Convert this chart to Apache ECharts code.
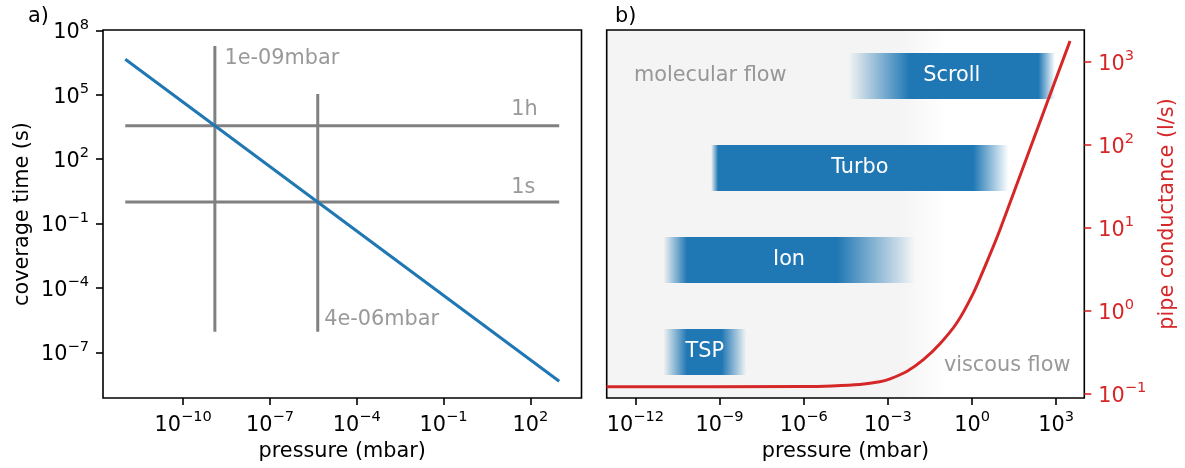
<!DOCTYPE html>
<html>
<head>
<meta charset="utf-8">
<script src="https://cdn.jsdelivr.net/npm/echarts@6/dist/echarts.min.js"></script>
<style>
html,body{margin:0;padding:0;background:#fff;}
#chart{width:1185px;height:468px;}
</style>
</head>
<body>
<div id="chart"></div>
<script>
// ---------- data: panel a (coverage time) ----------
const coverageP = [1e-12, 1e3];            // mbar
const coverageT = [4.5e6, 4.5e-9];         // s
const refTimes = [3600, 1];                // horizontal reference lines (1h, 1s)
const refTimeLabels = ['1h', '1s'];
const refTimeSpan = [1e-12, 1e3];
const refPress = [1.25e-9, 4.5e-6];        // vertical reference lines
const refPressTop = [1.9e7, 1.1e5];
const refPressBottom = [9e-7, 9e-7];
const refPressLabels = ['1e-09mbar', '4e-06mbar'];

// ---------- data: panel b (pumps and conductance) ----------
const pumpNames = ['TSP', 'Ion', 'Turbo', 'Scroll'];
const pumpStart = [1e-11, 1e-11, 5e-10, 4e-5];
const pumpFull = [7e-11, 7e-11, 9e-10, 6e-3];
const pumpFullEnd = [1.2e-9, 1.5e-5, 1.1, 230];
const pumpEnd = [9e-9, 9e-3, 20, 900];

const condP = [9.5e-14, 1e-6, 1e-5, 1e-4, 5.1e-4, 1.2e-3, 4.7e-3, 1.8e-2, 7.2e-2, 0.28, 1.1, 3.3, 9.8, 100, 3100];
const condC = [0.121, 0.122, 0.124, 0.129, 0.139, 0.151, 0.185, 0.255, 0.40, 0.705, 1.62, 3.8, 9.38, 78, 1780];

// ---------- tick labels (decade exponents) ----------
const ticksAX = [-10, -7, -4, -1, 2];
const ticksAY = [-7, -4, -1, 2, 5, 8];
const ticksBX = [-12, -9, -6, -3, 0, 3];
const ticksBY = [-1, 0, 1, 2, 3];

// ---------- annotation anchors (data space) ----------
const annotA = [
  {text: refPressLabels[0], p: 2.7e-9, t: 5.0e6},
  {text: refPressLabels[1], p: 7.6e-6, t: 3.2e-6},
  {text: refTimeLabels[0], p: 22, t: 1.95e4},
  {text: refTimeLabels[1], p: 22, t: 4.7}
];
const annotB = [
  {text: 'molecular flow', p: 8.9e-13, row: 3.5, align: 'left'},
  {text: 'viscous flow', p: 3.2e3, row: 0.35, align: 'right'}
];

const L = Math.log10;
const FONT = 'DejaVu Sans';
const FS = 20.8;
const GRAY = '#808080';
const RED = '#d62728';
const BLUE = '#1f77b4';

function expLabel(v) {
  const e = Math.round(v);
  return '{b|10}{s|' + (e < 0 ? '\u2212' + (-e) : e) + '}';
}
function rich(color) {
  return {
    b: {fontSize: FS, fontFamily: FONT, color: color, lineHeight: 26, verticalAlign: 'bottom'},
    s: {fontSize: 14.6, fontFamily: FONT, color: color, lineHeight: 16, verticalAlign: 'top'}
  };
}
function valueAxis(o) {
  const color = o.color || '#000';
  return Object.assign({
    type: 'value',
    splitLine: {show: false},
    axisLine: {show: false, onZero: false},
    axisTick: {show: true, customValues: o.ticks, length: 7, lineStyle: {color: color, width: 1.6}},
    axisLabel: {show: true, customValues: o.ticks, formatter: expLabel, rich: rich(color), margin: o.margin || 13},
    nameLocation: 'middle',
    nameTextStyle: {fontSize: FS, fontFamily: FONT, color: color}
  }, o.extra);
}

const chart = echarts.init(document.getElementById('chart'), null, {renderer: 'canvas'});

const series = [];
// panel a reference lines
refTimes.forEach(function (t) {
  series.push({type: 'line', xAxisIndex: 0, yAxisIndex: 0, symbol: 'none', silent: true,
    lineStyle: {color: GRAY, width: 3}, z: 2,
    data: [[L(refTimeSpan[0]), L(t)], [L(refTimeSpan[1]), L(t)]]});
});
refPress.forEach(function (p, i) {
  series.push({type: 'line', xAxisIndex: 0, yAxisIndex: 0, symbol: 'none', silent: true,
    lineStyle: {color: GRAY, width: 3}, z: 2,
    data: [[L(p), L(refPressBottom[i])], [L(p), L(refPressTop[i])]]});
});
series.push({type: 'line', xAxisIndex: 0, yAxisIndex: 0, symbol: 'none', silent: true, z: 3,
  lineStyle: {color: BLUE, width: 3},
  data: coverageP.map(function (p, i) { return [L(p), L(coverageT[i])]; })});
series.push({type: 'scatter', xAxisIndex: 0, yAxisIndex: 0, symbolSize: 0, silent: true, z: 4,
  data: annotA.map(function (a) {
    return {value: [L(a.p), L(a.t)], name: a.text};
  }),
  label: {show: true, position: [0, 0], align: 'left', verticalAlign: 'middle',
    formatter: function (d) { return d.name; }, fontSize: FS, fontFamily: FONT, color: GRAY}
});

// panel b pumps
series.push({type: 'custom', xAxisIndex: 1, yAxisIndex: 2, silent: true, z: 2,
  data: pumpNames.map(function (n, i) {
    return [L(pumpStart[i]), L(pumpFull[i]), L(pumpFullEnd[i]), L(pumpEnd[i]), i];
  }),
  encode: {x: [0, 1, 2, 3], y: 4},
  renderItem: function (params, api) {
    const c = api.value(4) + 0.5;
    const a = api.coord([api.value(0), c + 0.25]);
    const b = api.coord([api.value(3), c - 0.25]);
    const f1 = api.coord([api.value(1), c])[0];
    const f2 = api.coord([api.value(2), c])[0];
    const w = b[0] - a[0];
    return {
      type: 'rect',
      shape: {x: a[0], y: a[1], width: w, height: b[1] - a[1]},
      style: {fill: {type: 'linear', x: 0, y: 0, x2: 1, y2: 0, colorStops: [
        {offset: 0, color: 'rgba(31,119,180,0)'},
        {offset: (f1 - a[0]) / w, color: 'rgba(31,119,180,1)'},
        {offset: (f2 - a[0]) / w, color: 'rgba(31,119,180,1)'},
        {offset: 1, color: 'rgba(31,119,180,0)'}]}},
      textContent: {style: {text: pumpNames[params.dataIndex], fill: '#fff', fontSize: FS, fontFamily: FONT}},
      textConfig: {position: 'inside'}
    };
  }
});
series.push({type: 'line', xAxisIndex: 1, yAxisIndex: 1, symbol: 'none', silent: true, z: 5,
  smooth: 0.25,
  lineStyle: {color: RED, width: 3, join: 'round'},
  data: condP.map(function (p, i) { return [L(p), L(condC[i])]; })});
series.push({type: 'scatter', xAxisIndex: 1, yAxisIndex: 2, symbolSize: 0, silent: true, z: 4,
  data: annotB.map(function (a) {
    return {value: [L(a.p), a.row], name: a.text, label: {align: a.align}};
  }),
  label: {show: true, position: [0, 0], verticalAlign: 'middle',
    formatter: function (d) { return d.name; }, fontSize: FS, fontFamily: FONT, color: GRAY}
});

const option = {
  animation: false,
  textStyle: {fontFamily: FONT},
  title: [
    {text: 'a)', left: 23, top: 1, textStyle: {fontSize: FS, fontWeight: 'normal', fontFamily: FONT, color: '#000'}},
    {text: 'b)', left: 610, top: 1, textStyle: {fontSize: FS, fontWeight: 'normal', fontFamily: FONT, color: '#000'}}
  ],
  grid: [
    {left: 103, top: 30, width: 478.5, height: 368, show: true, borderColor: '#000', borderWidth: 1.6, backgroundColor: '#fff'},
    {left: 606.7, top: 30, width: 477.6, height: 368, show: true, borderColor: '#000', borderWidth: 1.6,
      backgroundColor: {type: 'linear', x: 0, y: 0, x2: 1, y2: 0, colorStops: [
        {offset: 0, color: '#f4f4f4'}, {offset: 0.612, color: '#f4f4f4'},
        {offset: 0.71, color: '#ffffff'}, {offset: 1, color: '#ffffff'}]}}
  ],
  xAxis: [
    valueAxis({ticks: ticksAX, margin: 12, extra: {gridIndex: 0, min: -12.77, max: 3.77, name: 'pressure (mbar)', nameGap: 43}}),
    valueAxis({ticks: ticksBX, margin: 12, extra: {gridIndex: 1, min: -13.02, max: 4.0, name: 'pressure (mbar)', nameGap: 43}})
  ],
  yAxis: [
    valueAxis({ticks: ticksAY, margin: 14, extra: {gridIndex: 0, min: -9.13, max: 8.02, name: 'coverage time (s)', nameGap: 70, nameRotate: 90}}),
    valueAxis({ticks: ticksBY, margin: 14, color: RED, extra: {gridIndex: 1, position: 'right', min: -1.052, max: 3.382, name: 'pipe conductance (l/s)', nameGap: 73, nameRotate: 90}}),
    {type: 'value', gridIndex: 1, min: 0, max: 4, show: false}
  ],
  series: series
};
chart.setOption(option);
</script>
</body>
</html>
